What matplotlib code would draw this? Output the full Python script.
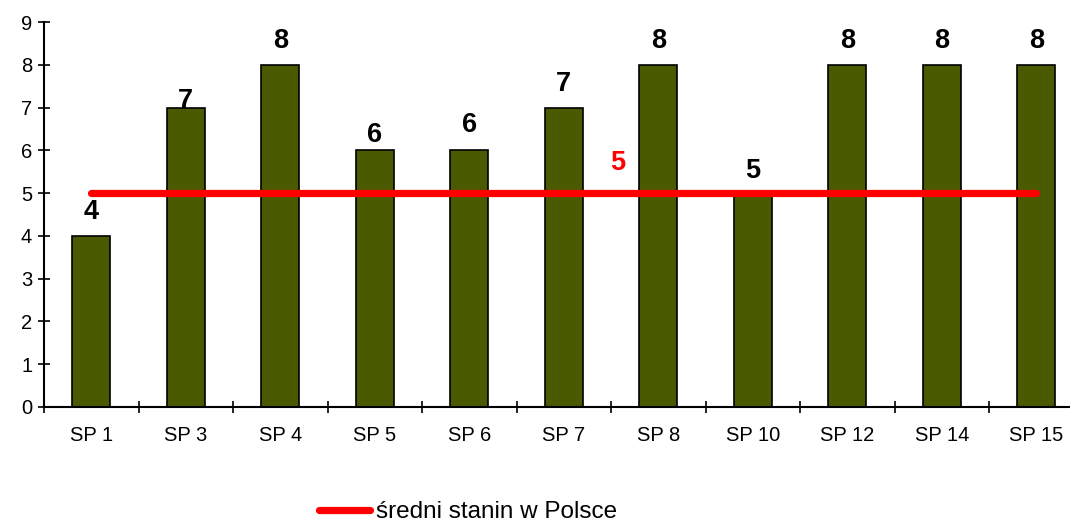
import matplotlib
matplotlib.use("Agg")
import matplotlib.pyplot as plt
import numpy as np

plt.rcParams['font.family'] = ['Liberation Sans', 'DejaVu Sans']

categories = ["SP 1", "SP 3", "SP 4", "SP 5", "SP 6", "SP 7", "SP 8", "SP 10", "SP 12", "SP 14", "SP 15"]
values = [4, 7, 8, 6, 6, 7, 8, 5, 8, 8, 8]
poland_mean = [5] * len(categories)
mean_label = "5"
legend_label = "średni stanin w Polsce"

# label offsets above bar tops (points), as placed in the original
label_offsets = [12, 0, 12, 6, 13, 12, 12, 11, 12, 12, 12]

W, H = 1070, 524
fig = plt.figure(figsize=(W / 100, H / 100), dpi=100)
ax = fig.add_axes([44 / W, (H - 407) / H, (1083.5 - 44) / W, (407 - 22) / H])

x = np.arange(len(categories))
ax.bar(x, values, width=0.4, color="#4A5A00", edgecolor="black", linewidth=1.2, zorder=2)
line, = ax.plot(x, poland_mean, color="#FF0000", linewidth=5.2, solid_capstyle="round",
                zorder=3, label=legend_label)

for xi, v, off in zip(x, values, label_offsets):
    ax.annotate(str(v), (xi, v), xytext=(0, off), textcoords="offset points",
                ha="center", va="baseline", fontsize=19.5, fontweight="bold", color="black",
                zorder=4)

ax.annotate(mean_label, (5.57, poland_mean[5]), xytext=(0, 17), textcoords="offset points",
            ha="center", va="baseline", fontsize=19.5, fontweight="bold", color="#FF0000", zorder=4)

ax.set_xlim(-0.5, len(categories) - 0.5)
ax.set_ylim(0, 9)
ax.set_yticks(range(0, 10))
ax.set_xticks(x)
ax.set_xticklabels(categories)
ax.set_xticks(np.arange(-0.5, len(categories), 1.0), minor=True)

ax.tick_params(axis="x", which="major", length=0, pad=14, labelsize=14.5)
ax.tick_params(axis="x", which="minor", direction="inout", length=8, width=1.2)
ax.tick_params(axis="y", direction="inout", length=9, width=1.2, pad=4, labelsize=14.5)

for s in ["top", "right"]:
    ax.spines[s].set_visible(False)
for s in ["left", "bottom"]:
    ax.spines[s].set_linewidth(1.5)

fig.legend(handles=[line], labels=[legend_label], loc="center left",
           bbox_to_anchor=(319 / W, 12 / H), frameon=False, fontsize=17.5,
           handlelength=2.1, handletextpad=0.25, borderpad=0, borderaxespad=0)

fig.savefig("out.png", dpi=100)
